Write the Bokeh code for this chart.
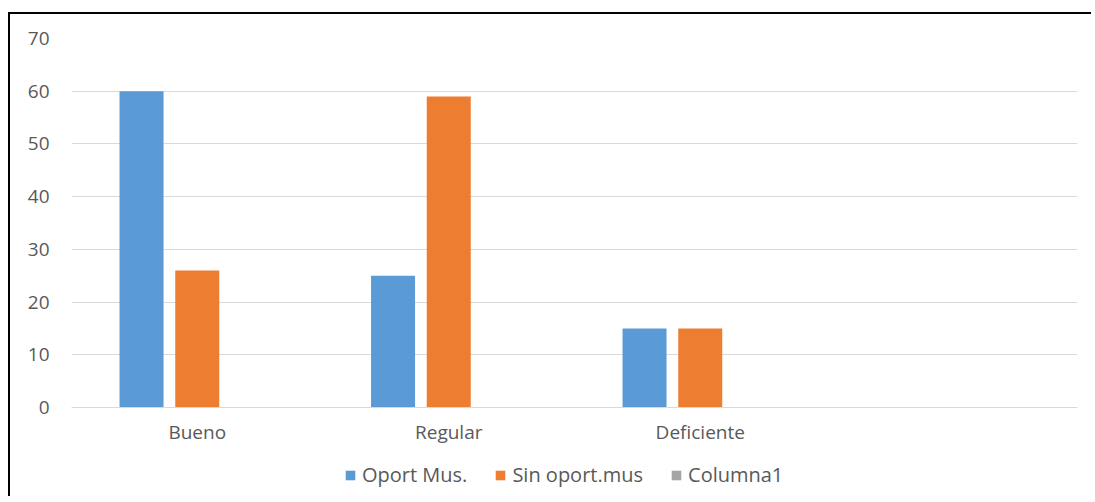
import math
from bokeh.plotting import figure
from bokeh.models import FactorRange, Range1d, Legend, LegendItem, ColumnDataSource
from bokeh.transform import dodge
from bokeh.embed import file_html
from bokeh.resources import INLINE

categories = ["Bueno", "Regular", "Deficiente", " "]
oport_mus = [60, 25, 15, float("nan")]
sin_oport_mus = [26, 59, 15, float("nan")]
columna1 = [float("nan")] * 4
series_names = ["Oport Mus.", "Sin oport.mus", "Columna1"]
y_ticks = [0, 10, 20, 30, 40, 50, 60, 70]

colors = ["#5B9BD5", "#ED7D31", "#A5A5A5"]
FONT = "Open Sans"
TXT = "#595959"
FS = "19px"

src = ColumnDataSource(dict(cat=categories, a=oport_mus, b=sin_oport_mus, c=columna1))

# the plot frame reaches down to the canvas bottom so that the legend is inside it;
# the value axis starts below zero only to make room, its ticks run 0..70
p = figure(
    x_range=FactorRange(*categories, range_padding=0),
    y_range=Range1d(-17.26, 70),
    width=1083, height=484,
    output_backend="svg", toolbar_location=None,
    min_border_left=61, min_border_right=16,
    min_border_top=24, min_border_bottom=0,
)
p.styles = {"border-left": "2px solid #000", "border-top": "2px solid #000",
            "margin-top": "12px", "margin-left": "8px"}

r_list = []
for key, off, col in zip(["a", "b", "c"], [-0.2215, 0.0, 0.2215], colors):
    r = p.vbar(x=dodge("cat", off, range=p.x_range), top=key, width=0.175, source=src,
               fill_color=col, line_color=None)
    r_list.append(r)

p.outline_line_color = None
p.background_fill_color = "white"
p.border_fill_color = "white"

p.xgrid.grid_line_color = None
p.ygrid.grid_line_color = "#D9D9D9"
p.ygrid.grid_line_width = 1
p.yaxis.ticker = y_ticks
p.yaxis.axis_line_color = None
p.yaxis.major_tick_line_color = None
p.yaxis.minor_tick_line_color = None
p.yaxis.major_label_standoff = 16
p.yaxis.major_label_text_font = FONT
p.yaxis.major_label_text_font_size = FS
p.yaxis.major_label_text_color = TXT

p.xaxis.fixed_location = 0
p.xaxis.axis_line_color = "#D9D9D9"
p.xaxis.major_tick_line_color = None
p.xaxis.minor_tick_line_color = None
p.xaxis.major_label_standoff = 5
p.xaxis.major_label_text_font = FONT
p.xaxis.major_label_text_font_size = FS
p.xaxis.major_label_text_color = TXT

legend = Legend(
    items=[LegendItem(label=n, renderers=[r]) for n, r in zip(series_names, r_list)],
    orientation="horizontal", location=(273, 10),
    glyph_width=12, glyph_height=12, label_standoff=6, spacing=27,
    padding=0, margin=0,
    border_line_color=None, background_fill_alpha=0,
    label_text_font=FONT, label_text_font_size="20px", label_text_color=TXT,
)
p.add_layout(legend, "center")

open("out.html", "w").write(file_html(p, INLINE))
